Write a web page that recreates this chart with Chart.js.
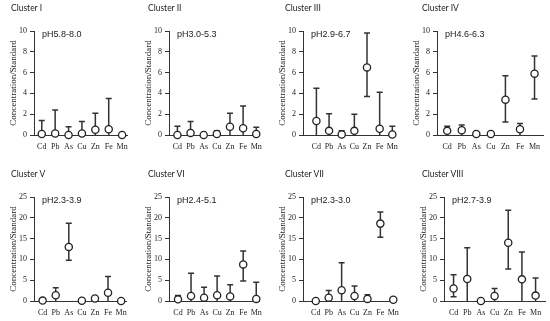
<!DOCTYPE html>
<html>
<head>
<meta charset="utf-8">
<script src="https://cdn.jsdelivr.net/npm/chart.js@4.4.1/dist/chart.umd.min.js"></script>
<style>
  html, body { margin: 0; padding: 0; background: #fff; overflow: hidden; }
  #page { position: relative; width: 550px; height: 321px; overflow: hidden; }
  .panel { position: absolute; height: 160px; }
  .panel canvas { position: absolute; left: 0; top: 0; }
  .titulo { position: absolute; font-family: Lato, "Open Sans", sans-serif; font-size: 8.5px; color: #222; white-space: nowrap; }
</style>
</head>
<body>
<div id="page"></div>
<script>
const categorias = ['Cd', 'Pb', 'As', 'Cu', 'Zn', 'Fe', 'Mn'];
const nomesClusters = ['Cluster I', 'Cluster II', 'Cluster III', 'Cluster IV', 'Cluster V', 'Cluster VI', 'Cluster VII', 'Cluster VIII'];
const faixasPH = ['pH5.8-8.0', 'pH3.0-5.3', 'pH2.9-6.7', 'pH4.6-6.3', 'pH2.3-3.9', 'pH2.4-5.1', 'pH2.3-3.0', 'pH2.7-3.9'];

// media e limites das barras de erro (Concentration/Standard)
const mediaI = [0.1, 0.15, 0.0, 0.15, 0.5, 0.55, 0.0];
const superiorI = [1.4, 2.4, 0.8, 1.3, 2.1, 3.5, 0.0];
const inferiorI = [0, 0, 0, 0, 0, 0, 0];

const mediaII = [0.0, 0.2, 0.0, 0.1, 0.8, 0.65, 0.1];
const superiorII = [0.85, 1.3, 0.1, 0.4, 2.1, 2.8, 0.75];
const inferiorII = [0, 0, 0, 0, 0, 0, 0];

const mediaIII = [1.35, 0.4, 0.05, 0.4, 6.5, 0.6, 0.05];
const superiorIII = [4.5, 2.05, 0.4, 2.0, 9.8, 4.1, 0.85];
const inferiorIII = [0, 0, 0, 0, 3.7, 0, 0];

const mediaIV = [0.4, 0.45, 0.1, 0.1, 3.4, 0.55, 5.9];
const superiorIV = [0.85, 0.95, 0.1, 0.25, 5.7, 1.1, 7.6];
const inferiorIV = [0, 0, 0, 0, 1.25, 0, 3.45];

const mediaV = [0.1, 1.4, 13.0, 0.05, 0.6, 2.0, 0.0];
const superiorV = [0.1, 3.2, 18.7, 0.05, 1.1, 5.9, 0.0];
const inferiorV = [0, 0, 9.8, 0, 0, 0, 0];

const mediaVI = [0.4, 1.2, 0.8, 1.4, 1.1, 8.8, 0.5];
const superiorVI = [1.3, 6.7, 3.3, 6.0, 3.9, 12.0, 4.5];
const inferiorVI = [0, 0, 0, 0, 0, 4.8, 0];

const mediaVII = [0.0, 0.8, 2.6, 1.2, 0.5, 18.6, 0.3];
const superiorVII = [0.0, 2.5, 9.2, 3.6, 1.5, 21.4, 0.3];
const inferiorVII = [0, 0, 0, 0, 0, 15.3, 0];

const mediaVIII = [3.0, 5.3, 0.0, 1.2, 14.0, 5.2, 1.3];
const superiorVIII = [6.3, 12.8, 0.0, 3.0, 21.8, 11.8, 5.5];
const inferiorVIII = [1.0, 0, 0, 0, 7.7, 0, 0];

const eixoYMax = [10, 10, 10, 10, 25, 25, 25, 25];
const eixoYPasso = [2, 2, 2, 2, 5, 5, 5, 5];

const medias = [mediaI, mediaII, mediaIII, mediaIV, mediaV, mediaVI, mediaVII, mediaVIII];
const superiores = [superiorI, superiorII, superiorIII, superiorIV, superiorV, superiorVI, superiorVII, superiorVIII];
const inferiores = [inferiorI, inferiorII, inferiorIII, inferiorIV, inferiorV, inferiorVI, inferiorVII, inferiorVIII];

// layout: posicao do eixo y na pagina, comprimento do eixo x, topo do painel
const eixoXPagina = [34, 169, 303, 437, 34, 169, 303, 444];
const compEixoX = [98, 97, 99, 109, 97, 97, 100, 104];
const topoPainel = [0, 0, 0, 0, 166, 166, 166, 166];
const xMinimo = [-0.58, -0.64, -1.06, -0.70, -0.66, -0.69, -0.99, -0.70];
const xMaximo = [6.43, 6.24, 6.20, 6.63, 6.44, 6.26, 6.22, 6.74];
const posTitulo = [11, 148, 285, 422, 11, 148, 285, 422];

const corEixo = '#333';
const fonteSerif = "'Liberation Serif', 'Times New Roman', serif";
const margemEsq = 34;

const pluginBarrasErro = {
    id: 'barrasErro',
    beforeDatasetsDraw(chart) {
        const ctx = chart.ctx;
        const yEscala = chart.scales.y;
        const xEscala = chart.scales.x;
        const op = chart.options.plugins.barrasErro;
        ctx.save();
        ctx.strokeStyle = corEixo;
        ctx.lineWidth = 1.5;
        for (let i = 0; i < op.media.length; i++) {
            const sup = op.superior[i];
            const inf = Math.max(op.inferior[i], 0);
            if (sup <= op.media[i] + 0.05 && inf >= op.media[i]) continue;
            const x = xEscala.getPixelForValue(i);
            const ySup = yEscala.getPixelForValue(Math.max(sup, op.media[i]));
            const yInf = yEscala.getPixelForValue(inf);
            ctx.beginPath();
            ctx.moveTo(x, yInf);
            ctx.lineTo(x, ySup);
            if (sup > op.media[i] + 0.05) {
                ctx.moveTo(x - 3, ySup);
                ctx.lineTo(x + 3, ySup);
            }
            if (inf > 0) {
                ctx.moveTo(x - 3, yInf);
                ctx.lineTo(x + 3, yInf);
            }
            ctx.stroke();
        }
        // rotulo de pH
        ctx.fillStyle = '#222';
        ctx.font = "9px 'Liberation Sans', Arial, sans-serif";
        ctx.textBaseline = 'middle';
        ctx.textAlign = 'left';
        ctx.fillText(op.ph, chart.chartArea.left + 8, chart.chartArea.top + 4);
        ctx.restore();
    }
};

const pagina = document.getElementById('page');

for (let k = 0; k < 8; k++) {
    const largura = margemEsq + compEixoX[k] + 3;
    const painel = document.createElement('div');
    painel.className = 'panel';
    painel.style.left = (eixoXPagina[k] - margemEsq) + 'px';
    painel.style.top = topoPainel[k] + 'px';
    painel.style.width = largura + 'px';
    const canvas = document.createElement('canvas');
    canvas.width = largura;
    canvas.height = 160;
    canvas.style.width = largura + 'px';
    canvas.style.height = '160px';
    painel.appendChild(canvas);
    pagina.appendChild(painel);

    const titulo = document.createElement('div');
    titulo.className = 'titulo';
    titulo.textContent = nomesClusters[k];
    titulo.style.left = posTitulo[k] + 'px';
    titulo.style.top = (topoPainel[k] + 3) + 'px';
    pagina.appendChild(titulo);

    new Chart(canvas, {
        type: 'scatter',
        data: {
            datasets: [{
                data: medias[k].map((v, i) => ({ x: i, y: v })),
                showLine: false,
                clip: false,
                pointStyle: 'circle',
                pointRadius: 3.6,
                pointBackgroundColor: '#fff',
                pointBorderColor: '#222',
                pointBorderWidth: 1.3
            }]
        },
        options: {
            responsive: false,
            animation: false,
            layout: { padding: { top: 31, right: 3, left: 0, bottom: 0 } },
            plugins: {
                legend: { display: false },
                tooltip: { enabled: false },
                barrasErro: {
                    media: medias[k],
                    superior: superiores[k],
                    inferior: inferiores[k],
                    ph: faixasPH[k]
                }
            },
            scales: {
                x: {
                    type: 'linear',
                    min: xMinimo[k],
                    max: xMaximo[k],
                    grid: { display: false, drawTicks: false },
                    border: { display: true, color: corEixo, width: 1 },
                    ticks: {
                        color: '#222',
                        font: { family: fonteSerif, size: 8 },
                        padding: 7,
                        maxRotation: 0,
                        autoSkip: false,
                        callback: function(valor) { return categorias[valor]; }
                    },
                    afterBuildTicks: function(escala) {
                        escala.ticks = categorias.map((c, i) => ({ value: i }));
                    },
                    afterFit: function(escala) { escala.height = 25; }
                },
                y: {
                    min: 0,
                    max: eixoYMax[k],
                    grid: { drawOnChartArea: false, drawTicks: true, tickLength: 4, color: corEixo },
                    border: { display: true, color: corEixo, width: 1 },
                    ticks: { stepSize: eixoYPasso[k], color: '#222', font: { family: fonteSerif, size: 8 }, padding: 3 },
                    title: {
                        display: true,
                        text: 'Concentration/Standard',
                        color: '#222',
                        font: { family: fonteSerif, size: 9 },
                        padding: { top: 8, bottom: 0 }
                    },
                    afterFit: function(escala) { escala.width = margemEsq; }
                }
            }
        },
        plugins: [pluginBarrasErro]
    });
}
</script>
</body>
</html>
